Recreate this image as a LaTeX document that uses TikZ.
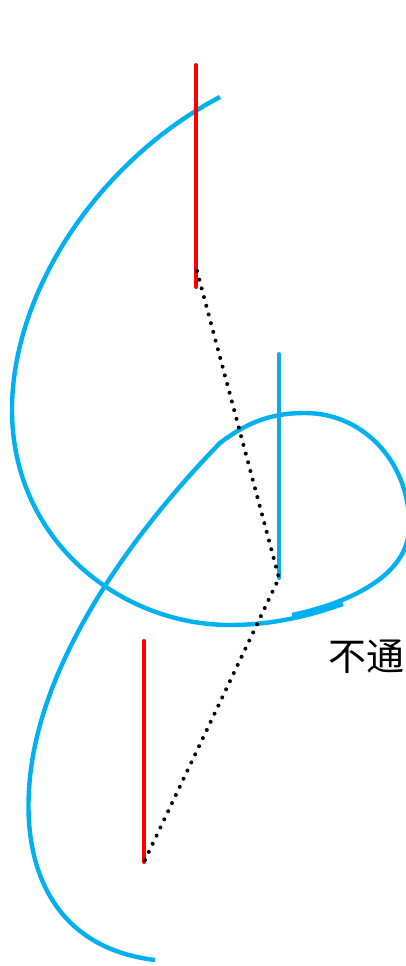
\documentclass[tikz,border=0pt]{standalone}
\usepackage{fontspec}
\newfontfamily\cjk{Noto Sans CJK SC}
\usepackage{tikz}
\usetikzlibrary{positioning}
\definecolor{curveblue}{RGB}{0,176,240}
\definecolor{barblue}{RGB}{20,170,230}

\begin{document}
\begin{tikzpicture}[x=1pt, y=-1pt,
  curve/.style={curveblue, line width=4.4pt},
  redbar/.style={red, line width=4pt, line cap=round},
  bluebar/.style={barblue, line width=4pt, line cap=round},
  dotpath/.style={black, line width=4pt, line cap=round, dash pattern=on 0pt off 9pt}]
  \useasboundingbox (0,0) rectangle (405,966);
  % fixed points
  \coordinate (rtop) at (196,65);
  \coordinate (rbot) at (196,287);
  \coordinate (rturn) at (197,271);
  \coordinate (btop) at (279,354);
  \coordinate (bbot) at (279,578);
  \coordinate (ltop) at (144,641);
  \coordinate (lbot) at (144,862);
  % blue curves
  \draw[curve] (220,97) .. controls (100,160) and (12,290) .. (12,410)
    .. controls (12,540) and (120,625) .. (230,625)
    .. controls (280,625) and (320,612) .. (343,604);
  \draw[curve] (155,960) .. controls (55,948) and (24,870) .. (29,790)
    .. controls (36,660) and (140,525) .. (220,443)
    .. controls (250,420) and (275,413) .. (305,413)
    .. controls (365,413) and (412,465) .. (409,530)
    .. controls (406,580) and (340,605) .. (292,615);
  % bars
  \draw[redbar] (rtop) -- (rbot);
  \draw[bluebar] (btop) -- (bbot);
  \draw[redbar] (ltop) -- (lbot);
  % dotted link
  \draw[dotpath] (rturn) -- (bbot) -- (lbot);
  \node[anchor=west, inner sep=0pt, font=\cjk\fontsize{38}{40}\selectfont] (lbl) at (328,657) {不通};
\end{tikzpicture}
\end{document}
